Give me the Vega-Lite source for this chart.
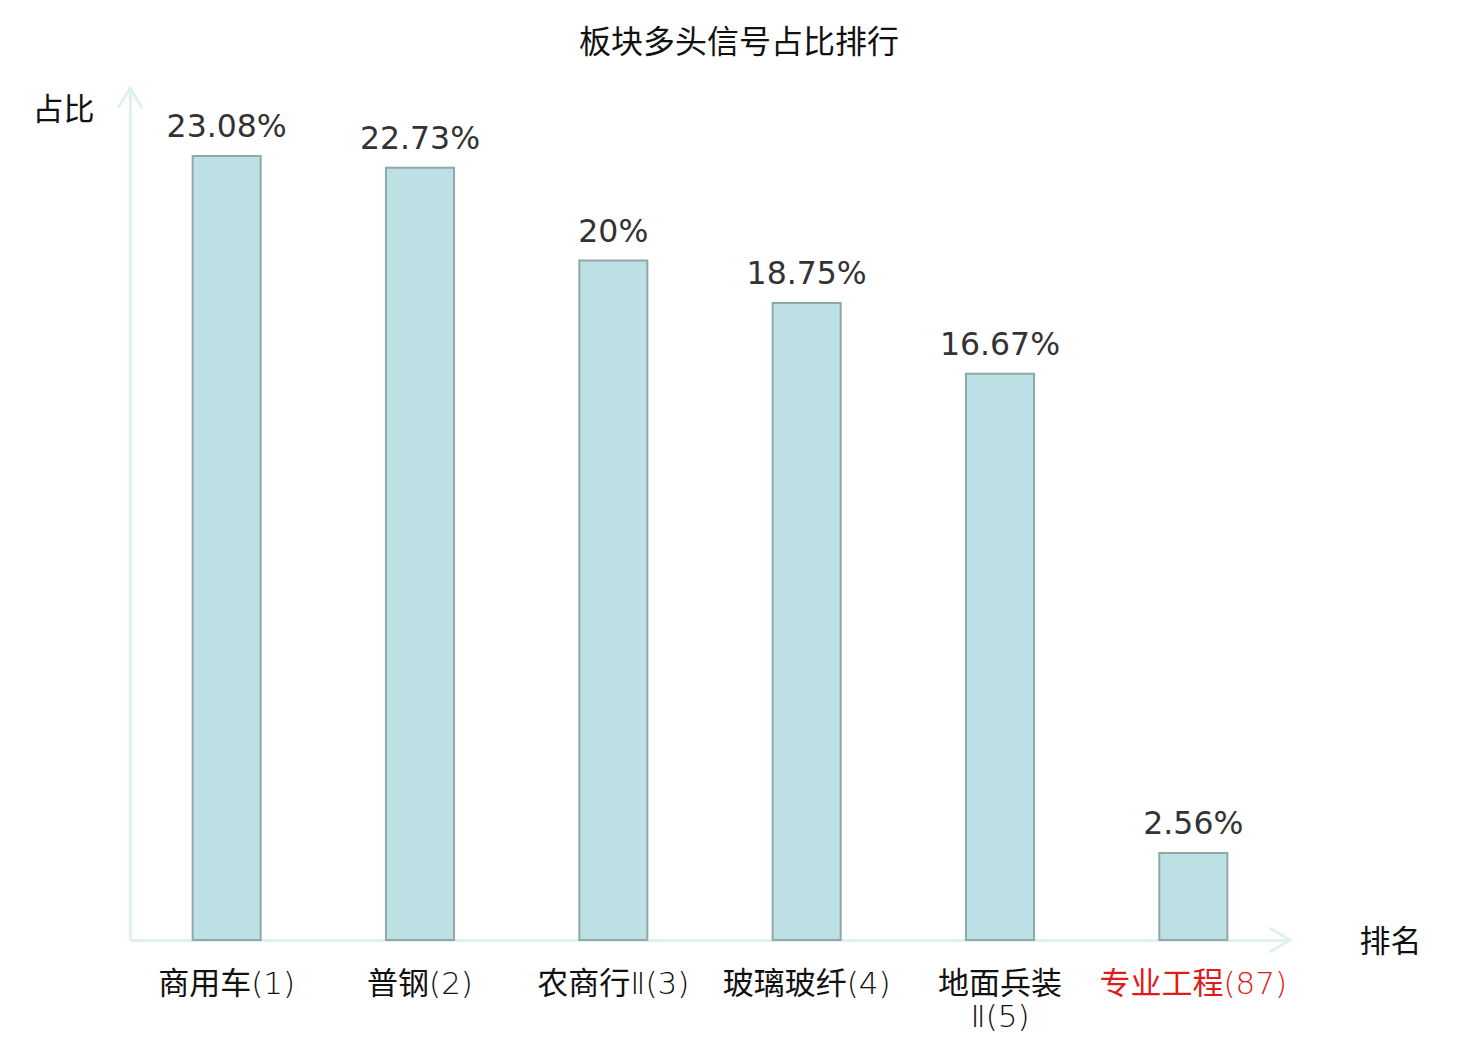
{
  "$schema": "https://vega.github.io/schema/vega-lite/v6.json",
  "autosize": {"type": "none"},
  "width": 1160,
  "height": 852,
  "padding": {"left": 130, "top": 88, "right": 190, "bottom": 100},
  "background": "white",
  "title": {
    "text": "板块多头信号占比排行",
    "font": "Noto Sans CJK SC",
    "fontSize": 32,
    "fontWeight": "normal",
    "color": "#111111",
    "anchor": "middle",
    "dx": 29,
    "offset": 22
  },
  "data": {
    "values": [
      {"cat": "商用车(1)", "value": 23.08, "label": "23.08%"},
      {"cat": "普钢(2)", "value": 22.73, "label": "22.73%"},
      {"cat": "农商行Ⅱ(3)", "value": 20, "label": "20%"},
      {"cat": "玻璃玻纤(4)", "value": 18.75, "label": "18.75%"},
      {"cat": "地面兵装|Ⅱ(5)", "value": 16.67, "label": "16.67%"},
      {"cat": "专业工程(87)", "value": 2.56, "label": "2.56%"}
    ]
  },
  "encoding": {
    "x": {
      "field": "cat",
      "type": "nominal",
      "sort": null,
      "scale": {"paddingInner": 0, "paddingOuter": 0},
      "axis": {
        "title": "排名",
        "titleFont": "Noto Sans CJK SC",
        "titleFontSize": 31,
        "titleFontWeight": "normal",
        "titleColor": "#111111",
        "titleAlign": "center",
        "titleBaseline": "middle",
        "titleAnchor": null,
        "titleX": 1260,
        "titleY": 2,
        "labelAngle": 0,
        "labelFont": "'DejaVu Sans ExtraLight', 'DejaVu Sans Light', 'Noto Sans CJK SC'",
        "labelFontSize": 31,
        "labelLineHeight": 33,
        "labelPadding": 29,
        "labelLimit": 400,
        "labelExpr": "split(datum.value, '|')",
        "labelColor": {
          "condition": {"test": "datum.value === '专业工程(87)'", "value": "#e01b1b"},
          "value": "#111111"
        },
        "ticks": false,
        "grid": false,
        "domainColor": "#dff2ef",
        "domainWidth": 3
      }
    },
    "y": {
      "field": "value",
      "type": "quantitative",
      "scale": {"domain": [0, 25.08], "nice": false},
      "axis": {
        "title": "占比",
        "titleFont": "Noto Sans CJK SC",
        "titleFontSize": 31,
        "titleFontWeight": "normal",
        "titleColor": "#111111",
        "titleAngle": 0,
        "titleAlign": "center",
        "titleBaseline": "middle",
        "titleAnchor": null,
        "titleX": -67,
        "titleY": 22,
        "labels": false,
        "ticks": false,
        "grid": false,
        "domainColor": "#dff2ef",
        "domainWidth": 3
      }
    }
  },
  "layer": [
    {
      "mark": {
        "type": "bar",
        "width": {"band": 0.352},
        "fill": "#bce0e3",
        "stroke": "#8fa9a9",
        "strokeWidth": 2
      }
    },
    {
      "mark": {
        "type": "text",
        "baseline": "bottom",
        "dy": -12,
        "font": "DejaVu Sans",
        "fontSize": 31.5,
        "color": "#333333"
      },
      "encoding": {"text": {"field": "label"}}
    },
    {
      "data": {"values": [{"cat": "商用车(1)", "v": 25.08}]},
      "mark": {
        "type": "point",
        "shape": "M -0.6 1 L 0 0 L 0.6 1",
        "filled": false,
        "stroke": "#dff2ef",
        "strokeWidth": 3,
        "size": 1600,
        "opacity": 1
      },
      "encoding": {
        "x": {"field": "cat", "type": "nominal", "bandPosition": 0},
        "y": {"field": "v", "type": "quantitative"}
      }
    },
    {
      "data": {"values": [{"cat": "专业工程(87)", "v": 0}]},
      "mark": {
        "type": "point",
        "shape": "M -1 -0.6 L 0 0 L -1 0.6",
        "filled": false,
        "stroke": "#dff2ef",
        "strokeWidth": 3,
        "size": 1600,
        "opacity": 1
      },
      "encoding": {
        "x": {"field": "cat", "type": "nominal", "bandPosition": 1},
        "y": {"field": "v", "type": "quantitative"}
      }
    }
  ],
  "config": {"view": {"stroke": null}}
}
